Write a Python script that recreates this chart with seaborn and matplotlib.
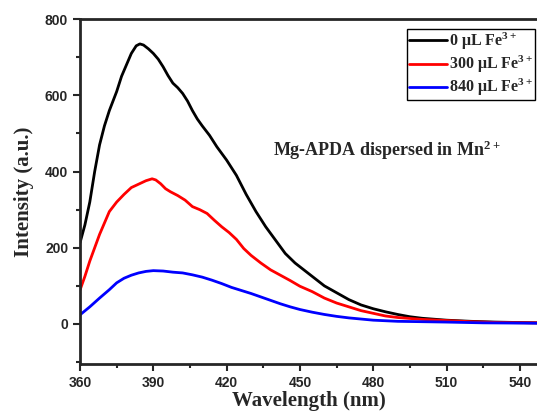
import numpy as np
import pandas as pd
import seaborn as sns
import matplotlib.pyplot as plt
from matplotlib.ticker import MultipleLocator

# Emission spectra (wavelength in nm, intensity in a.u.)
wl_0 = [360, 362, 364, 366, 368, 370, 372, 375, 377, 379, 381, 383, 384.5, 386, 388,
        390, 392, 394, 396, 398, 400, 402, 404, 406, 408, 410, 413, 416, 420, 424,
        428, 432, 436, 440, 444, 448, 452, 456, 460, 465, 470, 475, 480, 485, 490,
        495, 500, 510, 520, 530, 547]
int_0 = [213, 260, 320, 400, 470, 520, 560, 610, 650, 680, 710, 730, 735, 732, 722,
         710, 695, 675, 652, 632, 620, 605, 585, 560, 538, 520, 495, 465, 430, 390,
         340, 295, 255, 220, 185, 160, 140, 120, 100, 82, 64, 50, 40, 32, 25,
         19, 15, 10, 7, 5, 3]

wl_300 = [360, 362, 364, 366, 368, 370, 372, 375, 378, 381, 384, 387, 389.5, 391, 393,
          395, 397, 400, 403, 406, 409, 412, 415, 418, 421, 424, 427, 430, 434, 438,
          442, 446, 450, 455, 460, 465, 470, 475, 480, 485, 490, 500, 510, 520, 530, 547]
int_300 = [89, 125, 165, 200, 235, 265, 295, 320, 340, 358, 367, 376, 381, 378, 368,
           355, 347, 337, 325, 308, 300, 290, 272, 255, 240, 222, 198, 180, 160, 142,
           128, 114, 99, 85, 68, 55, 45, 35, 28, 21, 17, 12, 9, 6, 4, 3]

wl_840 = [360, 364, 368, 372, 375, 378, 381, 384, 387, 390, 394, 398, 402, 406, 410,
          414, 418, 422, 426, 430, 434, 438, 442, 446, 450, 455, 460, 465, 470, 475,
          480, 490, 500, 510, 525, 547]
int_840 = [24, 45, 68, 90, 108, 120, 128, 134, 138, 140, 139, 136, 134, 129, 123,
           115, 106, 96, 88, 80, 71, 62, 53, 45, 38, 31, 25, 20, 16, 13,
           10, 7, 6, 5, 3, 2]

labels = ["0 \u03bcL Fe$\\mathregular{^{3+}}$",
          "300 \u03bcL Fe$\\mathregular{^{3+}}$",
          "840 \u03bcL Fe$\\mathregular{^{3+}}$"]
colors = ["black", "#ff0000", "#0000ff"]

sns.set_style("ticks")
plt.rcParams["font.family"] = ["Liberation Serif", "DejaVu Serif"]
plt.rcParams["font.weight"] = "bold"

fig = plt.figure(figsize=(5.37, 4.16), dpi=100)
ax = fig.add_axes([0.149, 0.125, 0.851, 0.829])

for wl, vals, lab, col in zip([wl_0, wl_300, wl_840], [int_0, int_300, int_840], labels, colors):
    df = pd.DataFrame({"wl": wl, "I": vals})
    sns.lineplot(data=df, x="wl", y="I", ax=ax, color=col, lw=2, label=lab)

ax.set_xlim(360, 547)
ax.set_ylim(-105, 800)
ax.xaxis.set_major_locator(MultipleLocator(30))
ax.xaxis.set_minor_locator(MultipleLocator(15))
ax.yaxis.set_major_locator(MultipleLocator(200))
ax.yaxis.set_minor_locator(MultipleLocator(100))

for s in ["left", "bottom", "top"]:
    ax.spines[s].set_linewidth(2)
ax.spines["right"].set_visible(False)

ax.tick_params(which="both", width=1.5, direction="out")
ax.tick_params(which="major", length=5)
ax.tick_params(which="minor", length=3)
for lab in ax.get_xticklabels() + ax.get_yticklabels():
    lab.set_fontfamily("Liberation Sans")
    lab.set_fontweight("bold")
    lab.set_fontsize(10)

ax.set_xlabel("Wavelength (nm)", fontsize=15, fontweight="bold", labelpad=1)
ax.set_ylabel("Intensity (a.u.)", fontsize=15, fontweight="bold", labelpad=8)

ax.text(0.422, 0.62, "Mg-APDA dispersed in Mn$\\mathregular{^{2+}}$", transform=ax.transAxes,
        fontsize=13, fontweight="bold", va="center")

leg = ax.legend(loc="upper right", bbox_to_anchor=(0.996, 0.972), fontsize=11.5,
                frameon=True, fancybox=False, edgecolor="black", framealpha=1,
                handlelength=2.4, handletextpad=0.1, borderpad=0.12, labelspacing=0.12,
                borderaxespad=0)
leg.get_frame().set_linewidth(1)
for t in leg.get_texts():
    t.set_fontweight("bold")

fig.savefig("out.png", dpi=100)
